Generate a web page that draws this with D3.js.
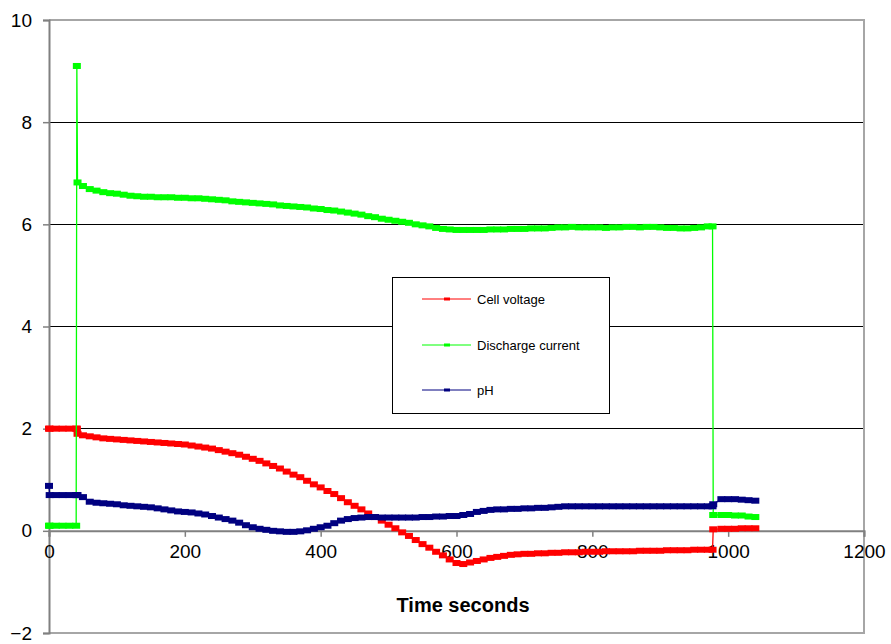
<!DOCTYPE html>
<html>
<head>
<meta charset="utf-8">
<script src="https://cdn.jsdelivr.net/npm/d3@7"></script>
<style>
  body { margin: 0; background: #fff; }
  svg { display: block; font-family: "Liberation Sans", Arial, sans-serif; }
</style>
</head>
<body>
<svg id="chart" width="891" height="644"></svg>
<script>
// time stamps (seconds) shared by the three series
var time = [
  0, 1, 10, 20, 30, 40, 41, 42,
  50, 60, 70, 80, 90, 100, 110, 120, 130, 140, 150, 160, 170, 180, 190, 200,
  210, 220, 230, 240, 250, 260, 270, 280, 290, 300, 310, 320, 330, 340, 350, 360,
  370, 380, 390, 400, 410, 420, 430, 440, 450, 460, 470, 480, 490, 500, 510, 520,
  530, 540, 550, 560, 570, 580, 590, 600, 610, 620, 630, 640, 650, 660, 670, 680,
  690, 700, 710, 720, 730, 740, 750, 760, 770, 780, 790, 800, 810, 820, 830, 840,
  850, 860, 870, 880, 890, 900, 910, 920, 930, 940, 950, 960, 970, 977, 978,
  990, 1000, 1010, 1020, 1030, 1040
];

var cellVoltage = [
  2.0, 2.0, 2.0, 2.0, 2.0, 2.0, 2.0, 1.9,
  1.87, 1.85, 1.83, 1.81, 1.80, 1.79, 1.78, 1.77, 1.76, 1.75, 1.74, 1.73, 1.72, 1.71, 1.70, 1.69,
  1.67, 1.65, 1.63, 1.61, 1.58, 1.55, 1.52, 1.49, 1.45, 1.41, 1.37, 1.32, 1.27, 1.22, 1.16, 1.10,
  1.05, 0.98, 0.91, 0.85, 0.78, 0.72, 0.64, 0.56, 0.49, 0.42, 0.34, 0.27, 0.20, 0.12, 0.05, -0.03,
  -0.10, -0.18, -0.26, -0.33, -0.41, -0.48, -0.56, -0.63, -0.65, -0.62, -0.59, -0.56, -0.53, -0.51, -0.49, -0.47,
  -0.46, -0.45, -0.45, -0.44, -0.44, -0.43, -0.43, -0.42, -0.42, -0.42, -0.41, -0.41, -0.41, -0.40, -0.40, -0.40,
  -0.40, -0.40, -0.39, -0.39, -0.39, -0.39, -0.38, -0.38, -0.38, -0.38, -0.37, -0.37, -0.37, -0.37, 0.03,
  0.04, 0.04, 0.04, 0.05, 0.05, 0.05
];

var dischargeCurrent = [
  0.1, 0.1, 0.1, 0.1, 0.1, 0.1, 9.1, 6.82,
  6.75, 6.69, 6.66, 6.63, 6.61, 6.60, 6.58, 6.56, 6.55, 6.54, 6.54, 6.53, 6.53, 6.53, 6.52, 6.52,
  6.51, 6.51, 6.50, 6.49, 6.48, 6.47, 6.45, 6.44, 6.43, 6.42, 6.41, 6.40, 6.39, 6.37, 6.36, 6.35,
  6.34, 6.33, 6.31, 6.30, 6.28, 6.27, 6.25, 6.23, 6.21, 6.19, 6.16, 6.14, 6.11, 6.09, 6.07, 6.05,
  6.03, 6.00, 5.98, 5.96, 5.93, 5.91, 5.90, 5.89, 5.89, 5.89, 5.89, 5.89, 5.90, 5.90, 5.90, 5.91,
  5.91, 5.91, 5.92, 5.92, 5.92, 5.93, 5.94, 5.94, 5.95, 5.94, 5.94, 5.94, 5.94, 5.93, 5.94, 5.94,
  5.95, 5.95, 5.94, 5.95, 5.95, 5.94, 5.93, 5.93, 5.92, 5.92, 5.93, 5.94, 5.96, 5.96, 0.31,
  0.31, 0.31, 0.30, 0.30, 0.28, 0.27
];

var pH = [
  0.88, 0.70, 0.70, 0.70, 0.70, 0.70, 0.70, 0.70,
  0.66, 0.57, 0.55, 0.54, 0.53, 0.52, 0.50, 0.49, 0.48, 0.47, 0.46, 0.44, 0.42, 0.40, 0.38, 0.37,
  0.36, 0.34, 0.32, 0.29, 0.26, 0.23, 0.20, 0.16, 0.11, 0.07, 0.04, 0.02, 0.00, -0.01, -0.02, -0.02,
  -0.01, 0.01, 0.04, 0.07, 0.10, 0.15, 0.20, 0.23, 0.25, 0.26, 0.27, 0.27, 0.26, 0.26, 0.26, 0.26,
  0.26, 0.26, 0.27, 0.27, 0.28, 0.28, 0.29, 0.29, 0.31, 0.33, 0.37, 0.39, 0.41, 0.42, 0.42, 0.43,
  0.43, 0.44, 0.44, 0.45, 0.45, 0.46, 0.47, 0.48, 0.48, 0.48, 0.48, 0.48, 0.48, 0.48, 0.48, 0.48,
  0.48, 0.48, 0.48, 0.48, 0.48, 0.48, 0.48, 0.48, 0.48, 0.48, 0.48, 0.48, 0.48, 0.48, 0.52,
  0.62, 0.62, 0.62, 0.61, 0.60, 0.59
];

var seriesNames = ["Cell voltage", "Discharge current", "pH"];
var seriesColors = ["#ff0000", "#00ff00", "#000080"];
var seriesValues = [cellVoltage, dischargeCurrent, pH];

var xTicks = [0, 200, 400, 600, 800, 1000, 1200];
var yTicks = [-2, 0, 2, 4, 6, 8, 10];

var svg = d3.select("#chart");

var x = d3.scaleLinear().domain([0, 1200]).range([49, 864]);
var y = d3.scaleLinear().domain([-2, 10]).range([633, 20]);

// gridlines
svg.append("g")
    .selectAll("line")
    .data(yTicks.filter(function(d) { return d > 0 && d < 10; }))
    .enter()
    .append("line")
    .attr("x1", x(0))
    .attr("x2", x(1200))
    .attr("y1", function(d) { return y(d); })
    .attr("y2", function(d) { return y(d); })
    .attr("stroke", "#000")
    .attr("stroke-width", 1)
    .attr("shape-rendering", "crispEdges");

// plot border top/right/bottom
svg.append("path")
    .attr("d", "M" + x(0) + "," + y(10) + "H" + x(1200) + "V" + y(-2) + "H" + x(0))
    .attr("fill", "none")
    .attr("stroke", "#a6a6a6")
    .attr("stroke-width", 1.5)
    .attr("shape-rendering", "crispEdges");

// y axis
var yAxis = svg.append("g")
    .attr("transform", "translate(" + x(0) + ",0)")
    .call(d3.axisLeft(y).tickValues(yTicks).tickSize(6).tickPadding(11));
yAxis.select(".domain").attr("stroke", "#808080").attr("stroke-width", 2);
yAxis.selectAll(".tick line").attr("stroke", "#808080").attr("stroke-width", 1.5);
yAxis.selectAll(".tick text")
    .attr("font-size", 19)
    .attr("fill", "#000")
    .style("font-family", "Liberation Sans, Arial, sans-serif");

// x axis at zero
var xAxis = svg.append("g")
    .attr("transform", "translate(0," + y(0) + ")")
    .call(d3.axisBottom(x).tickValues(xTicks).tickFormat(d3.format("d")).tickSize(6).tickPadding(8));
xAxis.select(".domain").attr("stroke", "#808080").attr("stroke-width", 2);
xAxis.selectAll(".tick line").attr("stroke", "#808080").attr("stroke-width", 1.5);
xAxis.selectAll(".tick text")
    .attr("font-size", 19)
    .attr("fill", "#000")
    .style("font-family", "Liberation Sans, Arial, sans-serif");

// axis title
svg.append("text")
    .attr("x", 463)
    .attr("y", 612)
    .attr("text-anchor", "middle")
    .attr("font-size", 20)
    .attr("font-weight", "bold")
    .text("Time seconds");

// series: thin connecting line plus dash markers
var line = d3.line()
    .x(function(d) { return x(d[0]); })
    .y(function(d) { return y(d[1]); });

seriesValues.forEach(function(vals, i) {
    var pts = time.map(function(t, j) { return [t, vals[j]]; });
    var g = svg.append("g");
    g.append("path")
        .datum(pts)
        .attr("d", line)
        .attr("fill", "none")
        .attr("stroke", seriesColors[i])
        .attr("stroke-width", 1.3);
    g.selectAll("rect")
        .data(pts)
        .enter()
        .append("rect")
        .attr("x", function(d) { return x(d[0]) - 4; })
        .attr("y", function(d) { return y(d[1]) - 3; })
        .attr("width", 8)
        .attr("height", 6)
        .attr("fill", seriesColors[i]);
});

// legend
var legend = svg.append("g").attr("transform", "translate(392,277)");
legend.append("rect")
    .attr("x", 0.5)
    .attr("y", 0.5)
    .attr("width", 217)
    .attr("height", 136)
    .attr("fill", "#fff")
    .attr("stroke", "#000")
    .attr("stroke-width", 1);

var rowY = [22, 68, 113];
seriesNames.forEach(function(name, i) {
    legend.append("line")
        .attr("x1", 30)
        .attr("x2", 79)
        .attr("y1", rowY[i])
        .attr("y2", rowY[i])
        .attr("stroke", seriesColors[i])
        .attr("stroke-width", 1);
    legend.append("rect")
        .attr("x", 52)
        .attr("y", rowY[i] - 1.5)
        .attr("width", 6)
        .attr("height", 3)
        .attr("fill", seriesColors[i]);
    legend.append("text")
        .attr("x", 85)
        .attr("y", rowY[i] + 4.5)
        .attr("font-size", 13)
        .attr("fill", "#000")
        .text(name);
});
</script>
</body>
</html>
